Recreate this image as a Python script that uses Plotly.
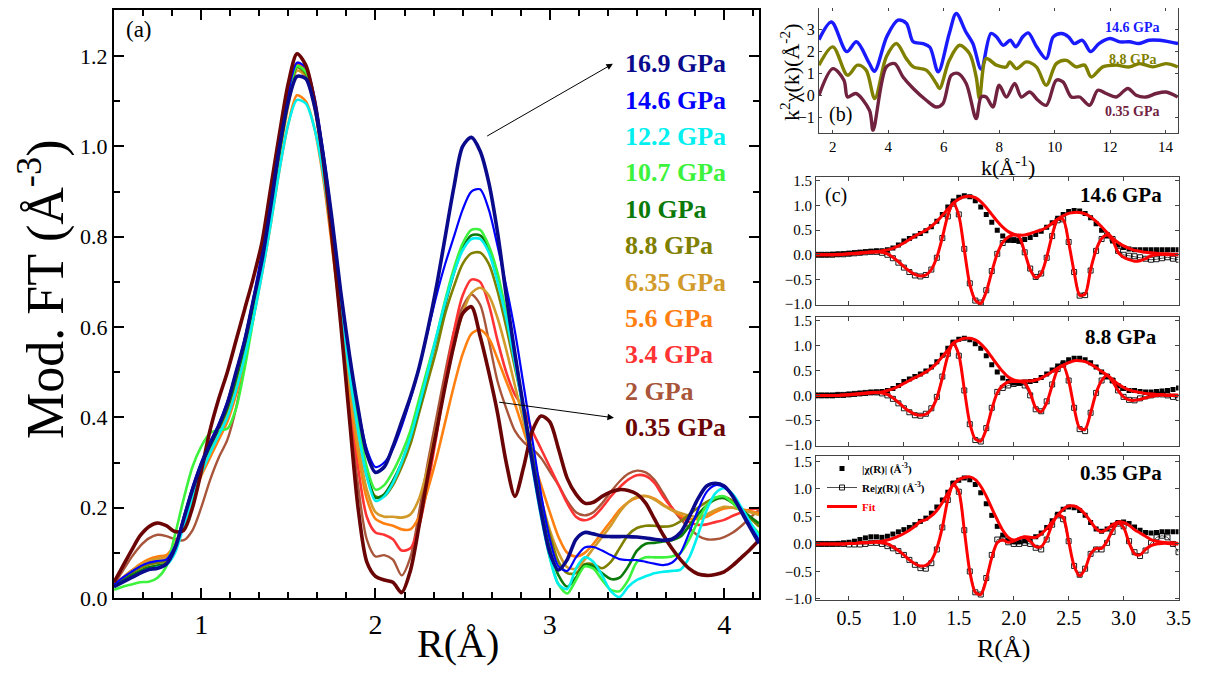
import plotly.graph_objects as go

# page body has an 8px default margin: the figure is sized to end at the window edge
OFF = 8
W, H = 1206 - OFF, 673 - OFF
SERIF = "Liberation Serif"


def px(x):
    return (x - OFF) / W


def py(y):
    return 1 - (y - OFF) / H


def clamp(v):
    return min(1.0, max(0.0, v))


# ---------------- Panel (a): Mod. FT vs R ----------------
R_a = [0.50, 0.55, 0.60, 0.65, 0.70, 0.75, 0.80, 0.85, 0.90, 0.95,
       1.00, 1.05, 1.10, 1.15, 1.20, 1.25, 1.30, 1.35, 1.40, 1.45,
       1.50, 1.55, 1.60, 1.65, 1.70, 1.75, 1.80, 1.85, 1.90, 1.95,
       2.00, 2.05, 2.10, 2.15, 2.20, 2.25, 2.30, 2.35, 2.40, 2.45,
       2.50, 2.55, 2.60, 2.65, 2.70, 2.75, 2.80, 2.85, 2.90, 2.95,
       3.00, 3.05, 3.10, 3.15, 3.20, 3.25, 3.30, 3.35, 3.40, 3.45,
       3.50, 3.55, 3.60, 3.65, 3.70, 3.75, 3.80, 3.85, 3.90, 3.95,
       4.00, 4.05, 4.10, 4.15, 4.20]

ft_169 = [0.025, 0.035, 0.045, 0.055, 0.063, 0.066, 0.075, 0.11, 0.175, 0.24,
          0.295, 0.34, 0.38, 0.43, 0.50, 0.57, 0.66, 0.75, 0.87, 1.00,
          1.10, 1.155, 1.15, 1.09, 0.98, 0.84, 0.68, 0.54, 0.42, 0.32,
          0.278, 0.29, 0.335, 0.39, 0.445, 0.51, 0.594, 0.69, 0.80, 0.91,
          1.00, 1.02, 0.99, 0.92, 0.81, 0.67, 0.54, 0.42, 0.30, 0.19,
          0.10, 0.062, 0.085, 0.13, 0.145, 0.142, 0.137, 0.136, 0.136, 0.136,
          0.135, 0.133, 0.130, 0.128, 0.130, 0.145, 0.18, 0.22, 0.248, 0.254,
          0.248, 0.225, 0.19, 0.155, 0.121]
ft_146 = [0.03, 0.045, 0.058, 0.07, 0.078, 0.082, 0.085, 0.115, 0.18, 0.245,
          0.30, 0.345, 0.385, 0.435, 0.50, 0.575, 0.665, 0.77, 0.89, 1.01,
          1.12, 1.185, 1.175, 1.11, 0.99, 0.84, 0.68, 0.54, 0.42, 0.33,
          0.29, 0.30, 0.33, 0.38, 0.44, 0.51, 0.59, 0.67, 0.74, 0.80,
          0.86, 0.90, 0.905, 0.86, 0.78, 0.69, 0.59, 0.47, 0.35, 0.23,
          0.13, 0.07, 0.06, 0.09, 0.112, 0.113, 0.105, 0.095, 0.086, 0.084,
          0.084, 0.08, 0.076, 0.073, 0.078, 0.10, 0.145, 0.195, 0.235, 0.25,
          0.245, 0.225, 0.195, 0.16, 0.128]
ft_122 = [0.025, 0.035, 0.045, 0.055, 0.063, 0.068, 0.073, 0.10, 0.16, 0.22,
          0.275, 0.32, 0.36, 0.40, 0.46, 0.535, 0.62, 0.72, 0.83, 0.95,
          1.05, 1.103, 1.095, 1.04, 0.94, 0.80, 0.65, 0.50, 0.37, 0.27,
          0.215, 0.225, 0.255, 0.30, 0.355, 0.425, 0.50, 0.58, 0.655, 0.72,
          0.77, 0.795, 0.795, 0.765, 0.70, 0.62, 0.52, 0.41, 0.29, 0.18,
          0.09, 0.03, 0.02, 0.065, 0.09, 0.08, 0.05, 0.015, 0.002, 0.025,
          0.04, 0.048, 0.055, 0.058, 0.06, 0.063, 0.09, 0.14, 0.195, 0.232,
          0.243, 0.23, 0.20, 0.168, 0.136]
ft_107 = [0.018, 0.025, 0.03, 0.035, 0.036, 0.045, 0.07, 0.14, 0.22, 0.29,
          0.335, 0.365, 0.372, 0.375, 0.42, 0.51, 0.62, 0.74, 0.87, 1.00,
          1.11, 1.178, 1.165, 1.10, 0.98, 0.83, 0.67, 0.52, 0.39, 0.29,
          0.24, 0.25, 0.28, 0.32, 0.37, 0.44, 0.51, 0.58, 0.66, 0.73,
          0.785, 0.815, 0.815, 0.78, 0.72, 0.63, 0.53, 0.42, 0.30, 0.19,
          0.09, 0.03, 0.01, 0.04, 0.07, 0.065, 0.04, 0.018, 0.015, 0.04,
          0.08, 0.09, 0.09, 0.09, 0.092, 0.10, 0.13, 0.17, 0.205, 0.222,
          0.225, 0.21, 0.19, 0.165, 0.143]
ft_10 = [0.025, 0.038, 0.05, 0.06, 0.068, 0.072, 0.076, 0.105, 0.17, 0.235,
         0.29, 0.335, 0.375, 0.42, 0.485, 0.56, 0.65, 0.75, 0.87, 0.99,
         1.10, 1.177, 1.165, 1.10, 0.98, 0.83, 0.67, 0.52, 0.39, 0.28,
         0.222, 0.23, 0.26, 0.30, 0.355, 0.42, 0.50, 0.575, 0.65, 0.72,
         0.775, 0.803, 0.803, 0.775, 0.71, 0.625, 0.525, 0.42, 0.31, 0.20,
         0.11, 0.05, 0.025, 0.045, 0.073, 0.07, 0.055, 0.042, 0.045, 0.07,
         0.105, 0.12, 0.122, 0.125, 0.128, 0.136, 0.16, 0.185, 0.205, 0.218,
         0.221, 0.21, 0.195, 0.18, 0.165]
ft_88 = [0.028, 0.042, 0.055, 0.066, 0.074, 0.078, 0.082, 0.11, 0.17, 0.235,
         0.29, 0.335, 0.375, 0.42, 0.485, 0.56, 0.65, 0.75, 0.87, 0.99,
         1.10, 1.175, 1.16, 1.095, 0.975, 0.82, 0.66, 0.51, 0.38, 0.27,
         0.225, 0.225, 0.25, 0.29, 0.34, 0.41, 0.48, 0.55, 0.63, 0.69,
         0.74, 0.763, 0.765, 0.74, 0.68, 0.60, 0.51, 0.42, 0.32, 0.22,
         0.14, 0.08, 0.055, 0.055, 0.075, 0.075, 0.066, 0.08, 0.11, 0.14,
         0.155, 0.16, 0.16, 0.158, 0.16, 0.17, 0.185, 0.20, 0.213, 0.222,
         0.224, 0.215, 0.197, 0.177, 0.158]
ft_635 = [0.03, 0.045, 0.06, 0.072, 0.082, 0.087, 0.09, 0.115, 0.17, 0.23,
          0.28, 0.325, 0.365, 0.41, 0.47, 0.545, 0.635, 0.74, 0.86, 0.98,
          1.09, 1.168, 1.155, 1.085, 0.96, 0.80, 0.64, 0.48, 0.34, 0.24,
          0.19, 0.18, 0.18, 0.178, 0.185, 0.22, 0.29, 0.38, 0.47, 0.56,
          0.63, 0.675, 0.687, 0.67, 0.62, 0.55, 0.47, 0.39, 0.30, 0.22,
          0.15, 0.10, 0.068, 0.065, 0.085, 0.11, 0.135, 0.16, 0.19, 0.212,
          0.224, 0.226, 0.218, 0.205, 0.195, 0.188, 0.182, 0.18, 0.185, 0.195,
          0.202, 0.20, 0.195, 0.19, 0.184]
ft_56 = [0.03, 0.045, 0.06, 0.075, 0.086, 0.092, 0.095, 0.12, 0.17, 0.22,
         0.27, 0.31, 0.35, 0.39, 0.45, 0.53, 0.62, 0.72, 0.83, 0.95,
         1.05, 1.113, 1.10, 1.04, 0.93, 0.78, 0.62, 0.46, 0.32, 0.22,
         0.175, 0.165, 0.16, 0.152, 0.152, 0.18, 0.24, 0.31, 0.39, 0.47,
         0.54, 0.585, 0.594, 0.575, 0.53, 0.48, 0.43, 0.37, 0.31, 0.25,
         0.19, 0.135, 0.10, 0.092, 0.10, 0.12, 0.145, 0.17, 0.195, 0.212,
         0.222, 0.226, 0.22, 0.207, 0.195, 0.183, 0.175, 0.175, 0.18, 0.19,
         0.198, 0.20, 0.197, 0.192, 0.188]
ft_34 = [0.03, 0.045, 0.06, 0.073, 0.083, 0.088, 0.09, 0.115, 0.17, 0.23,
         0.285, 0.33, 0.37, 0.415, 0.48, 0.555, 0.645, 0.75, 0.87, 0.99,
         1.10, 1.183, 1.165, 1.09, 0.96, 0.80, 0.62, 0.45, 0.29, 0.18,
         0.145, 0.14, 0.13, 0.105, 0.11, 0.16, 0.25, 0.36, 0.48, 0.59,
         0.67, 0.705, 0.70, 0.65, 0.57, 0.50, 0.45, 0.42, 0.37, 0.33,
         0.29, 0.25, 0.21, 0.18, 0.172, 0.18, 0.20, 0.225, 0.245, 0.262,
         0.272, 0.27, 0.255, 0.225, 0.20, 0.18, 0.168, 0.162, 0.163, 0.168,
         0.173, 0.182, 0.19, 0.196, 0.199]
ft_2 = [0.03, 0.06, 0.09, 0.115, 0.132, 0.14, 0.137, 0.13, 0.128, 0.15,
        0.20, 0.26, 0.31, 0.35, 0.42, 0.52, 0.63, 0.75, 0.87, 0.99,
        1.10, 1.185, 1.17, 1.09, 0.96, 0.80, 0.62, 0.43, 0.25, 0.13,
        0.092, 0.095, 0.085, 0.05, 0.09, 0.19, 0.30, 0.40, 0.50, 0.59,
        0.645, 0.672, 0.65, 0.57, 0.48, 0.42, 0.37, 0.345, 0.33, 0.31,
        0.28, 0.25, 0.215, 0.19, 0.183, 0.19, 0.21, 0.235, 0.258, 0.275,
        0.282, 0.278, 0.262, 0.232, 0.20, 0.175, 0.155, 0.138, 0.13, 0.13,
        0.135, 0.145, 0.16, 0.178, 0.195]
ft_035 = [0.035, 0.07, 0.105, 0.138, 0.158, 0.166, 0.16, 0.147, 0.15, 0.20,
          0.28, 0.37, 0.44, 0.50, 0.57, 0.64, 0.71, 0.79, 0.91, 1.03,
          1.14, 1.205, 1.18, 1.10, 0.97, 0.80, 0.61, 0.40, 0.20, 0.08,
          0.048, 0.04, 0.035, 0.012, 0.06, 0.16, 0.27, 0.37, 0.47, 0.56,
          0.63, 0.645, 0.58, 0.50, 0.41, 0.30, 0.225, 0.29, 0.37, 0.403,
          0.39, 0.33, 0.265, 0.23, 0.21, 0.212, 0.225, 0.235, 0.24, 0.238,
          0.23, 0.21, 0.175, 0.14, 0.11, 0.085, 0.065, 0.053, 0.05, 0.052,
          0.058, 0.072, 0.09, 0.108, 0.128]

labels_a = ["16.9 GPa", "14.6 GPa", "12.2 GPa", "10.7 GPa", "10 GPa", "8.8 GPa",
            "6.35 GPa", "5.6 GPa", "3.4 GPa", "2 GPa", "0.35 GPa"]
series_a = [ft_169, ft_146, ft_122, ft_107, ft_10, ft_88, ft_635, ft_56, ft_34, ft_2, ft_035]
colors_a = ["#0a0a8c", "#0000ff", "#00f0f0", "#3df23d", "#0a7a0a", "#808000",
            "#d19a2a", "#ff8010", "#ff3333", "#a8553a", "#6b0505"]
widths_a = [3.6, 2.2, 2.6, 2.6, 2.6, 2.6, 2.6, 2.6, 2.6, 2.4, 3.6]

# ---------------- Panel (b): k^2 chi(k) ----------------
k_146 = [1.5, 1.95, 2.5, 2.85, 3.3, 3.5, 3.95, 4.35, 4.65, 4.9,
         5.25, 5.5, 5.8, 6.2, 6.45, 6.8, 7.05, 7.35, 7.7, 7.9,
         8.15, 8.4, 8.6, 8.85, 9.05, 9.35, 9.7, 9.95, 10.25, 10.5,
         10.7, 11.0, 11.3, 11.6, 12.0, 12.35, 12.7, 13.05, 13.4, 13.8,
         14.15, 14.45]
chi_146 = [2.55, 3.36, 2.0, 2.45, 1.5, 1.1, 2.7, 3.44, 3.3, 2.45,
           2.37, 2.2, 1.07, 2.83, 3.75, 2.9, 2.37, 1.2, 2.83, 2.68,
           2.29, 2.52, 2.22, 2.68, 2.86, 2.22, 1.68, 2.68, 2.83, 2.68,
           2.37, 2.52, 2.0, 2.37, 2.6, 2.45, 2.45, 2.37, 2.52, 2.52,
           2.45, 2.37]
k_88 = [1.5, 2.0, 2.53, 2.89, 3.2, 3.51, 3.93, 4.29, 4.65, 4.9,
        5.37, 5.73, 5.85, 6.2, 6.57, 6.93, 7.17, 7.29, 7.53, 7.9,
        8.26, 8.38, 8.62, 8.98, 9.34, 9.7, 10.06, 10.42, 10.78, 11.08,
        11.32, 11.74, 12.22, 12.7, 13.06, 13.54, 14.02, 14.44]
chi_88 = [1.38, 2.22, 0.92, 1.38, 1.15, -0.15, 1.76, 2.37, 1.68, 1.3,
          1.15, 0.54, 0.31, 1.6, 2.29, 1.91, 0.84, -0.15, 1.68, 1.38,
          1.3, 1.53, 1.22, 1.53, 1.3, 0.46, 1.45, 1.6, 1.3, 1.38,
          0.84, 1.3, 1.38, 1.3, 1.45, 1.3, 1.45, 1.3]
k_035 = [1.5, 2.0, 2.4, 2.53, 2.83, 3.32, 3.45, 3.93, 4.23, 4.53,
         4.9, 5.37, 5.73, 5.97, 6.27, 6.51, 6.81, 7.17, 7.35, 7.53,
         7.77, 8.0, 8.26, 8.56, 8.8, 9.1, 9.4, 9.7, 10.06, 10.3,
         10.6, 10.9, 11.26, 11.56, 11.86, 12.22, 12.64, 12.94, 13.3, 13.66,
         14.02, 14.44]
chi_035 = [0.0, 1.22, 0.69, -0.08, 0.08, -0.69, -1.6, 1.3, 1.45, 0.84,
           0.31, -0.23, -0.54, -0.38, 0.92, 1.0, 0.54, -1.07, -0.08, -0.08,
           -0.54, 0.46, -0.08, 0.54, -0.08, 0.15, -0.23, -0.46, 0.69, 0.61,
           -0.08, -0.08, -0.46, 0.23, 0.08, -0.08, 0.31, 0.0, -0.08, 0.08,
           0.15, -0.08]
labels_b = ["14.6 GPa", "8.8 GPa", "0.35 GPa"]
colors_b = ["#1a1aff", "#808000", "#70223f"]

# ---------------- Panel (c): |chi(R)|, Re chi(R) and fits ----------------
R_c = [0.20, 0.25, 0.30, 0.35, 0.40, 0.45, 0.50, 0.55, 0.60, 0.65,
       0.70, 0.75, 0.80, 0.85, 0.90, 0.95, 1.00, 1.05, 1.10, 1.15,
       1.20, 1.25, 1.30, 1.35, 1.40, 1.45, 1.50, 1.55, 1.60, 1.65,
       1.70, 1.75, 1.80, 1.85, 1.90, 1.95, 2.00, 2.05, 2.10, 2.15,
       2.20, 2.25, 2.30, 2.35, 2.40, 2.45, 2.50, 2.55, 2.60, 2.65,
       2.70, 2.75, 2.80, 2.85, 2.90, 2.95, 3.00, 3.05, 3.10, 3.15,
       3.20, 3.25, 3.30, 3.35, 3.40, 3.45, 3.50]

mag_146 = [0.0, 0.0, 0.0, 0.01, 0.01, 0.02, 0.03, 0.04, 0.05, 0.06,
           0.07, 0.08, 0.08, 0.1, 0.14, 0.2, 0.28, 0.33, 0.38, 0.43,
           0.49, 0.57, 0.68, 0.82, 0.97, 1.09, 1.17, 1.2, 1.18, 1.1,
           0.97, 0.82, 0.66, 0.5, 0.38, 0.31, 0.29, 0.29, 0.31, 0.35,
           0.41, 0.48, 0.56, 0.65, 0.74, 0.82, 0.88, 0.9, 0.89, 0.84,
           0.75, 0.63, 0.5, 0.38, 0.28, 0.2, 0.15, 0.12, 0.1, 0.1,
           0.1, 0.1, 0.1, 0.1, 0.1, 0.1, 0.1]
re_146 = [0.0, 0.0, 0.0, 0.0, 0.01, 0.01, 0.02, 0.03, 0.04, 0.05,
          0.06, 0.06, 0.04, 0.0, -0.07, -0.16, -0.26, -0.35, -0.42, -0.44,
          -0.41, -0.3, -0.06, 0.34, 0.78, 1.04, 0.82, 0.12, -0.58, -0.93,
          -0.97, -0.72, -0.33, 0.02, 0.24, 0.3, 0.3, 0.28, 0.05, -0.28,
          -0.45, -0.38, -0.06, 0.38, 0.7, 0.72, 0.26, -0.35, -0.83, -0.82,
          -0.32, 0.08, 0.32, 0.4, 0.32, 0.08, 0.0, -0.02, -0.03, -0.05,
          -0.08, -0.1, -0.09, -0.07, -0.05, -0.08, -0.1]
fitmag_146 = [0.0, 0.0, 0.0, 0.0, 0.01, 0.01, 0.02, 0.02, 0.03, 0.04,
              0.05, 0.06, 0.08, 0.1, 0.13, 0.18, 0.24, 0.31, 0.38, 0.44,
              0.5, 0.58, 0.68, 0.8, 0.93, 1.05, 1.13, 1.18, 1.19, 1.16,
              1.08, 0.96, 0.82, 0.68, 0.56, 0.47, 0.42, 0.4, 0.4, 0.43,
              0.47, 0.5, 0.56, 0.64, 0.72, 0.79, 0.84, 0.86, 0.86, 0.83,
              0.77, 0.68, 0.57, 0.45, 0.34, 0.25, 0.18, 0.13, 0.09, 0.07,
              0.05, 0.04, 0.03, 0.02, 0.02, 0.01, 0.01]
fitre_146 = [0.0, 0.0, 0.0, 0.0, 0.0, 0.01, 0.02, 0.03, 0.04, 0.05,
             0.06, 0.06, 0.05, 0.02, -0.05, -0.14, -0.24, -0.33, -0.4, -0.43,
             -0.41, -0.3, -0.05, 0.35, 0.8, 1.05, 0.8, 0.1, -0.6, -0.92,
             -0.99, -0.75, -0.35, 0.02, 0.25, 0.36, 0.4, 0.36, 0.05, -0.3,
             -0.46, -0.38, -0.05, 0.4, 0.72, 0.72, 0.25, -0.35, -0.82, -0.8,
             -0.3, 0.1, 0.33, 0.4, 0.3, 0.05, -0.05, -0.1, -0.13, -0.12,
             -0.08, -0.02, 0.0, 0.01, 0.0, 0.0, 0.0]

mag_88 = [0.0, 0.0, 0.0, 0.0, 0.01, 0.01, 0.02, 0.03, 0.04, 0.05,
          0.06, 0.07, 0.08, 0.1, 0.14, 0.2, 0.28, 0.33, 0.38, 0.43,
          0.49, 0.57, 0.68, 0.81, 0.95, 1.07, 1.13, 1.15, 1.12, 1.04,
          0.95, 0.8, 0.62, 0.47, 0.35, 0.28, 0.25, 0.25, 0.27, 0.28,
          0.3, 0.36, 0.43, 0.51, 0.59, 0.66, 0.72, 0.75, 0.75, 0.72,
          0.66, 0.57, 0.47, 0.38, 0.3, 0.2, 0.14, 0.1, 0.1, 0.08,
          0.07, 0.07, 0.08, 0.09, 0.1, 0.12, 0.15]
re_88 = [0.0, 0.0, 0.0, 0.0, 0.01, 0.01, 0.02, 0.03, 0.04, 0.05,
         0.06, 0.06, 0.04, 0.0, -0.07, -0.16, -0.26, -0.34, -0.4, -0.41,
         -0.37, -0.26, -0.03, 0.38, 0.84, 1.06, 0.8, 0.1, -0.58, -0.9,
         -0.93, -0.66, -0.25, 0.07, 0.15, 0.2, 0.23, 0.25, 0.2, 0.0,
         -0.28, -0.32, -0.12, 0.22, 0.53, 0.62, 0.3, -0.25, -0.68, -0.72,
         -0.35, 0.05, 0.3, 0.38, 0.3, 0.1, -0.03, -0.09, -0.1, -0.06,
         -0.02, 0.0, 0.02, 0.02, 0.0, -0.03, -0.05]
fitmag_88 = [0.0, 0.0, 0.0, 0.0, 0.0, 0.01, 0.01, 0.02, 0.03, 0.04,
             0.05, 0.06, 0.07, 0.1, 0.13, 0.18, 0.24, 0.3, 0.36, 0.41,
             0.47, 0.55, 0.65, 0.78, 0.91, 1.06, 1.11, 1.15, 1.15, 1.12,
             1.04, 0.92, 0.77, 0.62, 0.48, 0.37, 0.31, 0.29, 0.29, 0.29,
             0.31, 0.35, 0.41, 0.48, 0.55, 0.61, 0.66, 0.7, 0.7, 0.68,
             0.63, 0.56, 0.48, 0.41, 0.32, 0.23, 0.16, 0.11, 0.08, 0.06,
             0.04, 0.03, 0.02, 0.02, 0.01, 0.01, 0.01]
fitre_88 = [0.0, 0.0, 0.0, 0.0, 0.0, 0.01, 0.02, 0.03, 0.04, 0.05,
            0.06, 0.06, 0.05, 0.02, -0.05, -0.14, -0.24, -0.32, -0.38, -0.4,
            -0.38, -0.28, -0.05, 0.35, 0.8, 1.05, 0.82, 0.12, -0.56, -0.88,
            -0.92, -0.68, -0.28, 0.05, 0.2, 0.27, 0.28, 0.28, 0.25, 0.05,
            -0.25, -0.33, -0.15, 0.2, 0.52, 0.6, 0.3, -0.25, -0.66, -0.68,
            -0.35, 0.05, 0.3, 0.4, 0.28, 0.1, -0.03, -0.09, -0.1, -0.08,
            -0.05, -0.02, 0.0, 0.01, 0.0, 0.0, 0.0]

mag_035 = [0.0, 0.0, 0.0, 0.0, 0.01, 0.02, 0.03, 0.05, 0.08, 0.11,
           0.13, 0.13, 0.12, 0.14, 0.18, 0.22, 0.26, 0.3, 0.35, 0.41,
           0.47, 0.56, 0.67, 0.8, 0.94, 1.1, 1.16, 1.2, 1.17, 1.08,
           0.93, 0.73, 0.52, 0.32, 0.16, 0.07, 0.04, 0.04, 0.06, 0.09,
           0.13, 0.2, 0.3, 0.42, 0.54, 0.63, 0.67, 0.66, 0.61, 0.52,
           0.39, 0.27, 0.23, 0.27, 0.34, 0.39, 0.4, 0.37, 0.31, 0.25,
           0.21, 0.2, 0.21, 0.22, 0.22, 0.22, 0.22]
re_035 = [0.0, 0.0, 0.0, 0.0, 0.0, 0.0, -0.01, -0.01, -0.01, 0.0,
          0.02, 0.02, 0.0, -0.04, -0.08, -0.13, -0.2, -0.29, -0.38, -0.44,
          -0.45, -0.35, -0.1, 0.3, 0.8, 1.1, 0.95, 0.25, -0.5, -0.88,
          -0.92, -0.62, -0.2, 0.08, 0.1, 0.03, 0.0, 0.0, 0.02, 0.0,
          -0.07, -0.1, 0.08, 0.35, 0.52, 0.45, 0.05, -0.4, -0.56, -0.45,
          -0.18, -0.1, -0.1, 0.02, 0.22, 0.37, 0.32, 0.05, -0.15, -0.22,
          -0.12, 0.02, 0.12, 0.15, 0.12, 0.0, -0.15]
fitmag_035 = [0.0, 0.0, 0.0, 0.0, 0.0, 0.0, 0.01, 0.01, 0.02, 0.02,
              0.03, 0.04, 0.05, 0.07, 0.1, 0.14, 0.19, 0.25, 0.32, 0.41,
              0.44, 0.51, 0.61, 0.75, 0.92, 1.08, 1.17, 1.21, 1.22, 1.17,
              1.05, 0.87, 0.65, 0.44, 0.25, 0.12, 0.07, 0.1, 0.13, 0.12,
              0.12, 0.18, 0.28, 0.4, 0.52, 0.63, 0.69, 0.69, 0.64, 0.54,
              0.41, 0.28, 0.22, 0.27, 0.35, 0.4, 0.39, 0.34, 0.26, 0.2,
              0.14, 0.08, 0.05, 0.03, 0.02, 0.02, 0.01]
fitre_035 = [0.0, 0.0, 0.0, 0.0, 0.0, 0.0, 0.01, 0.01, 0.02, 0.02,
             0.03, 0.03, 0.02, 0.0, -0.05, -0.12, -0.2, -0.29, -0.36, -0.4,
             -0.39, -0.3, -0.08, 0.3, 0.8, 1.08, 0.95, 0.25, -0.5, -0.88,
             -0.92, -0.65, -0.25, 0.02, 0.07, 0.03, 0.05, 0.1, 0.12, 0.05,
             -0.05, -0.05, 0.1, 0.35, 0.52, 0.48, 0.05, -0.4, -0.58, -0.45,
             -0.18, -0.08, -0.08, 0.05, 0.25, 0.38, 0.3, 0.02, -0.18, -0.2,
             -0.1, -0.03, 0.0, 0.01, 0.01, 0.0, 0.0]

labels_c = ["14.6 GPa", "8.8 GPa", "0.35 GPa"]

# ---------------- Figure ----------------
fig = go.Figure()

order = [9, 8, 7, 6, 5, 4, 3, 2, 1, 10, 0]
for i in order:
    fig.add_trace(go.Scatter(
        x=R_a, y=series_a[i], mode="lines",
        line=dict(color=colors_a[i], width=widths_a[i], shape="spline", smoothing=0.8),
        xaxis="x", yaxis="y", showlegend=False, hoverinfo="skip"))

for kk, vv, col in [(k_146, chi_146, colors_b[0]), (k_88, chi_88, colors_b[1]), (k_035, chi_035, colors_b[2])]:
    fig.add_trace(go.Scatter(x=kk, y=vv, mode="lines", line=dict(color=col, width=3.4, shape="spline", smoothing=0.9),
                             xaxis="x2", yaxis="y2", showlegend=False, hoverinfo="skip"))

sets_c = [(mag_146, re_146, fitmag_146, fitre_146, "x3", "y3"),
          (mag_88, re_88, fitmag_88, fitre_88, "x4", "y4"),
          (mag_035, re_035, fitmag_035, fitre_035, "x5", "y5")]
for j, (mg, rr, fm, fr, xa, ya) in enumerate(sets_c):
    leg = (j == 2)
    fig.add_trace(go.Scatter(x=R_c, y=mg, mode="markers", xaxis=xa, yaxis=ya,
                             marker=dict(symbol="square", size=5, color="black"),
                             name="<b>|χ(R)| (Å<sup>-3</sup>)</b>", showlegend=leg, hoverinfo="skip"))
    fig.add_trace(go.Scatter(x=R_c, y=rr, mode="lines+markers", xaxis=xa, yaxis=ya,
                             line=dict(color="black", width=0.7),
                             marker=dict(symbol="square-open", size=5, color="black", line=dict(width=0.9)),
                             name="<b>Re|χ(R)| (Å<sup>-3</sup>)</b>", showlegend=leg, hoverinfo="skip"))
    fig.add_trace(go.Scatter(x=R_c, y=fm, mode="lines", xaxis=xa, yaxis=ya,
                             line=dict(color="#ff0000", width=3, shape="spline", smoothing=0.8),
                             name="<b><span style='color:#ff0000'>Fit</span></b>", showlegend=leg, hoverinfo="skip"))
    fig.add_trace(go.Scatter(x=R_c, y=fr, mode="lines", xaxis=xa, yaxis=ya,
                             line=dict(color="#ff0000", width=3, shape="spline", smoothing=0.8),
                             showlegend=False, hoverinfo="skip"))


def ax(**kw):
    d = dict(showline=True, linecolor="#444", linewidth=1, mirror="ticks", ticks="inside",
             tickcolor="#444", showgrid=False, zeroline=False, automargin=False,
             tickfont=dict(family=SERIF, color="black"))
    d.update(kw)
    return d


def dom_x(a, b):
    return [clamp(px(a)), clamp(px(b))]


def dom_y(bottom, top):
    return [clamp(py(bottom)), clamp(py(top))]


xa_dom = dom_x(114, 759)
ya_dom = dom_y(598, 10)
xc_dom = dom_x(816, 1178.5)
layout = dict(
    template="none",
    width=W, height=H, autosize=False,
    margin=dict(l=0, r=0, t=0, b=0, pad=0),
    paper_bgcolor="white", plot_bgcolor="white",
    font=dict(family=SERIF, color="black"),
    xaxis=ax(domain=xa_dom, anchor="y", range=[0.5, 4.2], dtick=1, tick0=0,
             ticklen=10, tickwidth=1.5, linewidth=2, linecolor="black", tickcolor="black",
             tickfont=dict(family=SERIF, size=28, color="black"),
             minor=dict(ticks="inside", ticklen=6, dtick=1 / 6, tick0=0, tickcolor="black", tickwidth=1.5)),
    yaxis=ax(domain=ya_dom, anchor="x", range=[0, 1.302], dtick=0.2, tick0=0, tickformat=".1f",
             ticklen=10, tickwidth=1.5, linewidth=2, linecolor="black", tickcolor="black",
             tickfont=dict(family=SERIF, size=22, color="black"),
             minor=dict(ticks="inside", ticklen=6, dtick=0.1, tick0=0, tickcolor="black", tickwidth=1.5)),
    xaxis2=ax(domain=dom_x(819, 1178), anchor="y2", range=[1.5, 14.45], dtick=2, tick0=0, ticklen=3,
              tickfont=dict(family=SERIF, size=15, color="black")),
    yaxis2=ax(domain=dom_y(133, 8), anchor="x2", range=[-1.73, 4.0], dtick=1, tick0=0, ticklen=3,
              tickfont=dict(family=SERIF, size=16, color="black")),
    xaxis3=ax(domain=xc_dom, anchor="y3", range=[0.2, 3.5], dtick=0.5, tick0=0, ticklen=4,
              showticklabels=False),
    yaxis3=ax(domain=dom_y(305, 177), anchor="x3", range=[-1.02, 1.58], dtick=0.5, tick0=0,
              tickformat=".1f", ticklen=4, tickfont=dict(family=SERIF, size=15, color="black")),
    xaxis4=ax(domain=xc_dom, anchor="y4", range=[0.2, 3.5], dtick=0.5, tick0=0, ticklen=4,
              showticklabels=False),
    yaxis4=ax(domain=dom_y(446, 317), anchor="x4", range=[-1.02, 1.58], dtick=0.5, tick0=0,
              tickformat=".1f", ticklen=4, tickfont=dict(family=SERIF, size=15, color="black")),
    xaxis5=ax(domain=xc_dom, anchor="y5", range=[0.2, 3.5], dtick=0.5, tick0=0, ticklen=4, tickformat=".1f",
              tickfont=dict(family=SERIF, size=20, color="black")),
    yaxis5=ax(domain=dom_y(600, 456), anchor="x5", range=[-1.02, 1.6], dtick=0.5, tick0=0,
              tickformat=".1f", ticklen=4, tickfont=dict(family=SERIF, size=15, color="black")),
    legend=dict(x=px(822), y=py(454), xanchor="left", yanchor="top", bgcolor="rgba(0,0,0,0)",
                font=dict(family=SERIF, size=11, color="black"), tracegroupgap=0, itemwidth=30),
)
fig.update_layout(**layout)


def txt(text, x, y, size, color="black", angle=0, xanchor="center", yanchor="middle"):
    return dict(text=text, x=x, y=y, xref="paper", yref="paper", xanchor=xanchor, yanchor=yanchor,
                textangle=angle, showarrow=False, font=dict(family=SERIF, size=size, color=color))


ann = []
ann.append(txt("(a)", px(124), py(30), 23, xanchor="left"))
ann.append(txt("Mod. FT (Å<sup>-3</sup>)", px(42), py(289), 52, angle=-90))
ann.append(txt("R(Å)", px(458), py(643), 40))
for i, (lab, col) in enumerate(zip(labels_a, colors_a)):
    ann.append(dict(text="<b>%s</b>" % lab, x=3.42, y=1.183 - i * 0.0806, xref="x", yref="y",
                    xanchor="left", yanchor="middle", showarrow=False,
                    font=dict(family=SERIF, size=26, color=col)))
ann.append(dict(text="", x=3.362, y=1.183, xref="x", yref="y", ax=2.632, ay=1.021, axref="x", ayref="y",
                showarrow=True, arrowhead=2, arrowsize=1.3, arrowwidth=1, arrowcolor="black"))
ann.append(dict(text="", x=3.368, y=0.399, xref="x", yref="y", ax=2.701, ay=0.434, axref="x", ayref="y",
                showarrow=True, arrowhead=2, arrowsize=1.3, arrowwidth=1, arrowcolor="black"))

ann.append(txt("(b)", px(827), py(114), 20, xanchor="left"))
ann.append(txt("k<sup>2</sup>χ(k)(Å<sup>-2</sup>)", px(790), py(72), 22, angle=-90))
ann.append(txt("k(Å<sup>-1</sup>)", px(1008), py(166), 22))
for lab, col, yy in zip(labels_b, colors_b, [27, 60, 111]):
    ann.append(txt("<b>%s</b>" % lab, px(1132), py(yy), 14, color=col))

ann.append(txt("(c)", px(823), py(195), 20, xanchor="left"))
for lab, yy in zip(labels_c, [195, 337, 473]):
    ann.append(txt("<b>%s</b>" % lab, px(1121), py(yy), 21))
ann.append(txt("R(Å)", px(1003), py(648), 26))

fig.update_layout(annotations=ann)
fig.write_html("out.html")
